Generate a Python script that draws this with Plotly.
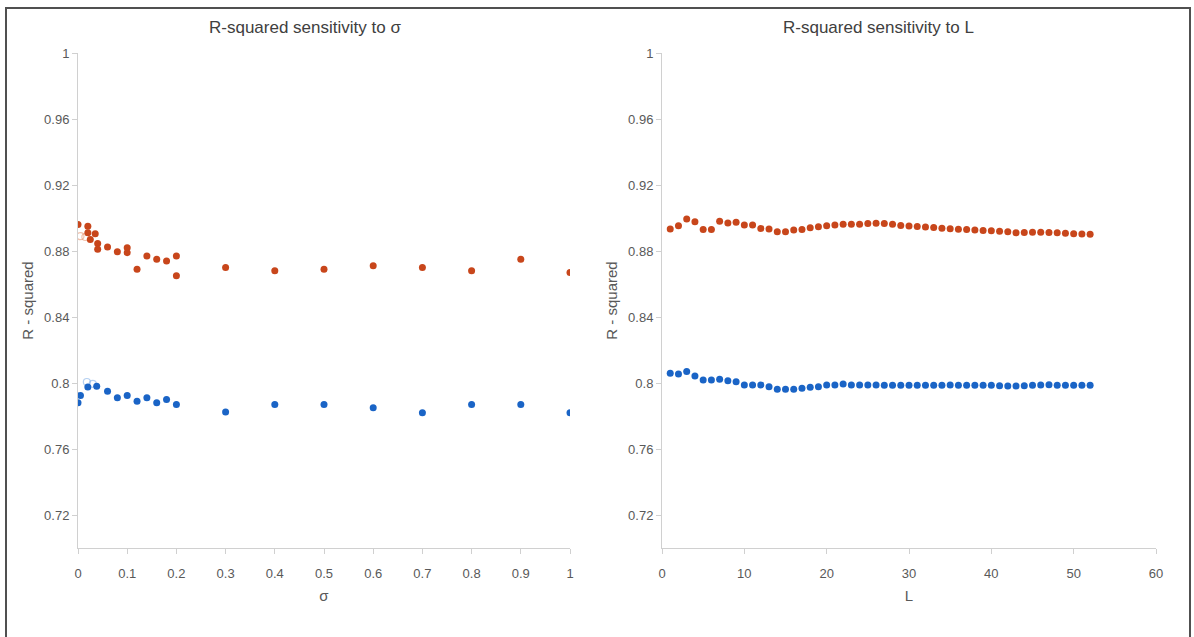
import plotly.graph_objects as go

# ---- Data: left panel (sensitivity to sigma) ----
sigma_orange = [0, 0.02, 0.02, 0.035, 0.025, 0.04, 0.04, 0.06, 0.08, 0.1, 0.1, 0.12, 0.14, 0.16, 0.18, 0.2, 0.2,
                0.3, 0.4, 0.5, 0.6, 0.7, 0.8, 0.9, 1.0]
r2_orange_sigma = [0.896, 0.895, 0.891, 0.8905, 0.887, 0.8845, 0.881, 0.8825, 0.8795, 0.882, 0.879, 0.869, 0.877,
                   0.875, 0.874, 0.877, 0.865,
                   0.870, 0.868, 0.869, 0.871, 0.870, 0.868, 0.875, 0.867]
sigma_orange_light = [0.005, 0.015]
r2_orange_light = [0.889, 0.8885]

sigma_blue = [0, 0.005, 0.02, 0.038, 0.06, 0.08, 0.1, 0.12, 0.14, 0.16, 0.18, 0.2,
              0.3, 0.4, 0.5, 0.6, 0.7, 0.8, 0.9, 1.0]
r2_blue_sigma = [0.788, 0.7925, 0.7976, 0.798, 0.795, 0.791, 0.7925, 0.789, 0.791, 0.788, 0.790, 0.787,
                 0.7824, 0.787, 0.787, 0.785, 0.782, 0.787, 0.787, 0.782]
sigma_blue_light = [0.018, 0.03]
r2_blue_light = [0.8006, 0.7995]

# ---- Data: right panel (sensitivity to L) ----
L_vals = list(range(1, 53))
r2_orange_L = [0.8933, 0.8953, 0.8994, 0.8978, 0.8930, 0.8930, 0.8980, 0.8970, 0.8975, 0.8958,
               0.8958, 0.8937, 0.8933, 0.8917, 0.8917, 0.8927, 0.8930, 0.8941, 0.8947, 0.8953,
               0.8958, 0.8962, 0.8962, 0.8962, 0.8966, 0.8968, 0.8966, 0.8962, 0.8955, 0.8952,
               0.8948, 0.8945, 0.8942, 0.8938, 0.8935, 0.8932, 0.8930, 0.8927, 0.8925, 0.8922,
               0.8920, 0.8917, 0.8910, 0.8912, 0.8913, 0.8914, 0.8912, 0.8910, 0.8907, 0.8905,
               0.8903, 0.8902]
r2_blue_L = [0.8059, 0.8055, 0.8069, 0.8042, 0.8018, 0.8018, 0.8022, 0.8014, 0.8008, 0.7988,
             0.7988, 0.7988, 0.7978, 0.7962, 0.7962, 0.7962, 0.7968, 0.7974, 0.7978, 0.7988,
             0.7988, 0.7994, 0.7988, 0.7988, 0.7988, 0.7988, 0.7986, 0.7986, 0.7986, 0.7986,
             0.7986, 0.7986, 0.7986, 0.7986, 0.7988, 0.7986, 0.7986, 0.7986, 0.7986, 0.7986,
             0.7984, 0.7982, 0.7982, 0.7984, 0.7986, 0.7988, 0.7990, 0.7986, 0.7986, 0.7986,
             0.7986, 0.7986]

sigma_ticks = [0, 0.1, 0.2, 0.3, 0.4, 0.5, 0.6, 0.7, 0.8, 0.9, 1]
sigma_ticktext = ["0", "0.1", "0.2", "0.3", "0.4", "0.5", "0.6", "0.7", "0.8", "0.9", "1"]
L_ticks = [0, 10, 20, 30, 40, 50, 60]
y_ticks = [0.72, 0.76, 0.8, 0.84, 0.88, 0.92, 0.96, 1.0]
y_ticktext = ["0.72", "0.76", "0.8", "0.84", "0.88", "0.92", "0.96", "1"]

ORANGE = "#C8461B"
BLUE = "#1A64C6"
ORANGE_L = "rgba(230,140,100,0.55)"
BLUE_L = "rgba(120,170,230,0.55)"
FONT = "Liberation Sans"
TXT = "#595959"

fig = go.Figure()
mk = dict(size=7, line=dict(width=0))
fig.add_trace(go.Scatter(x=sigma_orange_light, y=r2_orange_light, mode="markers", xaxis="x", yaxis="y",
                         marker=dict(size=7, color="rgba(0,0,0,0)", line=dict(width=1.2, color=ORANGE_L))))
fig.add_trace(go.Scatter(x=sigma_blue_light, y=r2_blue_light, mode="markers", xaxis="x", yaxis="y",
                         marker=dict(size=7, color="rgba(0,0,0,0)", line=dict(width=1.2, color=BLUE_L))))
fig.add_trace(go.Scatter(x=sigma_orange, y=r2_orange_sigma, mode="markers", xaxis="x", yaxis="y",
                         marker=dict(color=ORANGE, **mk)))
fig.add_trace(go.Scatter(x=sigma_blue, y=r2_blue_sigma, mode="markers", xaxis="x", yaxis="y",
                         marker=dict(color=BLUE, **mk)))
fig.add_trace(go.Scatter(x=L_vals, y=r2_orange_L, mode="markers", xaxis="x2", yaxis="y2",
                         marker=dict(color=ORANGE, **mk)))
fig.add_trace(go.Scatter(x=L_vals, y=r2_blue_L, mode="markers", xaxis="x2", yaxis="y2",
                         marker=dict(color=BLUE, **mk)))

W, H = 1194, 637
ydom = [1 - 548 / H, 1 - 53 / H]
axis_common = dict(showgrid=False, zeroline=False, showline=True, linecolor="#D0D0D0", linewidth=1,
                   ticks="outside", ticklen=5, tickcolor="#D0D0D0", automargin=False,
                   tickfont=dict(family=FONT, size=13, color=TXT))
xtitle_font = dict(family=FONT, size=15, color=TXT)

fig.update_layout(
    width=W, height=H, margin=dict(l=0, r=0, t=0, b=0, pad=0, autoexpand=False),
    paper_bgcolor="white", plot_bgcolor="white", showlegend=False,
    font=dict(family=FONT, color=TXT),
    xaxis=dict(domain=[78 / W, 570 / W], range=[0, 1], tickvals=sigma_ticks, ticktext=sigma_ticktext,
               anchor="y", ticklabelstandoff=8, title=dict(text="σ", font=xtitle_font, standoff=10),
               **axis_common),
    yaxis=dict(domain=ydom, range=[0.7, 1.0], tickvals=y_ticks, ticktext=y_ticktext, anchor="x",
               title=dict(text="R - squared", font=xtitle_font, standoff=6),
               **axis_common),
    xaxis2=dict(domain=[662 / W, 1156 / W], range=[0, 60], tickvals=L_ticks, anchor="y2",
                ticklabelstandoff=8, title=dict(text="L", font=xtitle_font, standoff=10),
                **axis_common),
    yaxis2=dict(domain=ydom, range=[0.7, 1.0], tickvals=y_ticks, ticktext=y_ticktext, anchor="x2",
                title=dict(text="R - squared", font=xtitle_font, standoff=6),
                **axis_common),
    annotations=[
        dict(text="R-squared sensitivity to σ", x=305 / W, y=1 - 28 / H, xref="paper", yref="paper",
             xanchor="center", yanchor="middle",
             showarrow=False, font=dict(family=FONT, size=17, color="#404040")),
        dict(text="R-squared sensitivity to L", x=878 / W, y=1 - 28 / H, xref="paper", yref="paper",
             xanchor="center", yanchor="middle",
             showarrow=False, font=dict(family=FONT, size=17, color="#404040")),
    ],
    shapes=[dict(type="rect", xref="paper", yref="paper", x0=6 / W, x1=1190 / W, y0=-0.05, y1=1 - 8 / H,
                 line=dict(color="#505050", width=2))],
)

fig.write_html("out.html")
